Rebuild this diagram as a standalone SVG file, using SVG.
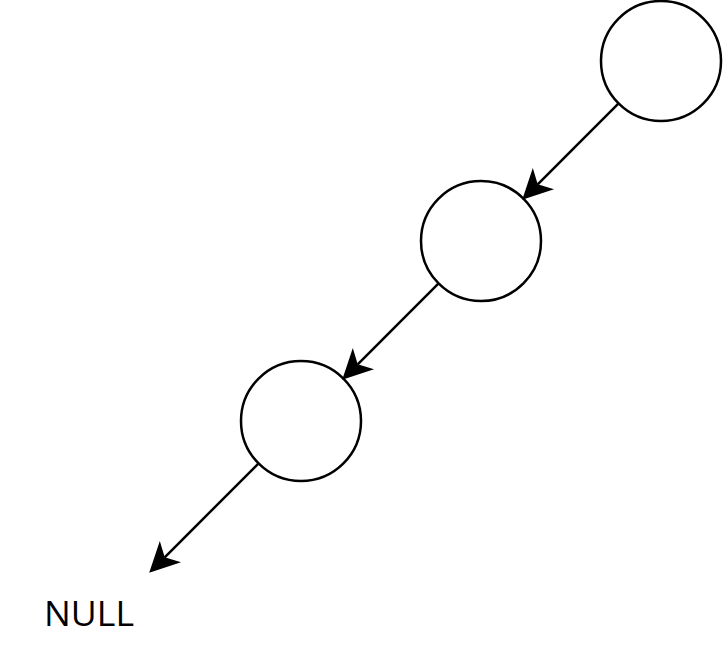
<svg xmlns="http://www.w3.org/2000/svg" width="723" height="663" viewBox="0 0 723 663">
<style>
.node{fill:#ffffff;stroke:#000000;stroke-width:2.5}
.edge{fill:none;stroke:#000000;stroke-width:2.5}
.label{font-family:"Open Sans","Liberation Sans",sans-serif;font-size:34px;fill:#000000}
</style>
<defs>
<marker id="arrow" markerUnits="userSpaceOnUse" markerWidth="30" markerHeight="30" viewBox="0 -13 26 26" refX="7" refY="0" orient="auto" overflow="visible">
<path d="M26,0 L0,-13 L7,0 L0,13 Z" fill="#000000" stroke="none"/>
</marker>
</defs>
<rect width="723" height="663" fill="#ffffff"/>
<g id="node1"><circle class="node" cx="661" cy="61" r="60"/></g>
<g id="node2"><circle class="node" cx="481" cy="241" r="60"/></g>
<g id="node3"><circle class="node" cx="301" cy="421" r="60"/></g>
<g id="null"><text class="label" x="44" y="626" textLength="90" lengthAdjust="spacingAndGlyphs">NULL</text></g>
<g id="connectors">
<line class="edge" x1="618.6" y1="103.4" x2="537.7" y2="184.3" marker-end="url(#arrow)"/>
<line class="edge" x1="438.6" y1="283.4" x2="357.7" y2="364.3" marker-end="url(#arrow)"/>
<line class="edge" x1="258.6" y1="463.4" x2="164.7" y2="557.3" marker-end="url(#arrow)"/>
</g>
</svg>
